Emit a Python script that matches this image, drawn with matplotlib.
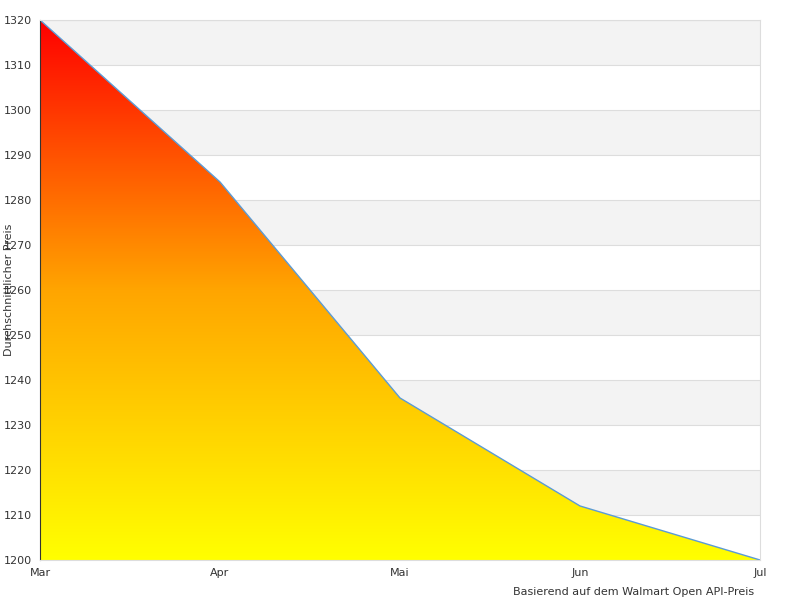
import matplotlib
matplotlib.use("Agg")
import matplotlib.pyplot as plt
import numpy as np
from matplotlib.colors import LinearSegmentedColormap
from matplotlib.patches import Polygon

months = ["Mar", "Apr", "Mai", "Jun", "Jul"]
prices = [1320, 1284, 1236, 1212, 1200]
yticks = list(range(1200, 1321, 10))

fig = plt.figure(figsize=(8, 6), dpi=100)
ax = fig.add_axes([0.05, 0.0667, 0.9, 0.9])
x = np.arange(len(months))
ymin, ymax = 1200, 1320
ax.set_xlim(0, len(months) - 1)
ax.set_ylim(ymin, ymax)

for lo in range(1200, 1320, 10):
    if ((lo - 1200) // 10) % 2 == 1:
        ax.axhspan(lo, lo + 10, color="#f3f3f3", zorder=0, lw=0)
for t in yticks:
    ax.axhline(t, color="#dddddd", lw=0.8, zorder=0.5)

cmap = LinearSegmentedColormap.from_list("ry", ["#ffff00", "#ffa500", "#ff0000"])
grad = np.linspace(0, 1, 256).reshape(-1, 1)
im = ax.imshow(grad, cmap=cmap, origin="lower", aspect="auto",
               extent=[0, len(months) - 1, ymin, ymax], zorder=1)
verts = list(zip(x, prices)) + [(x[-1], ymin), (x[0], ymin)]
poly = Polygon(verts, closed=True, transform=ax.transData, facecolor="none", edgecolor="none")
ax.add_patch(poly)
im.set_clip_path(poly)
ax.plot(x, prices, color="#5b9bd5", lw=1, zorder=2)

ax.set_xticks(x)
ax.set_xticklabels(months)
ax.set_yticks(yticks)
ax.tick_params(labelsize=8, colors="#333333", length=0, pad=6)
for s in ax.spines.values():
    s.set_color("#dddddd")
ax.spines["left"].set_color("#333333")
ax.set_ylabel("Durchschnittlicher Preis", fontsize=8, color="#333333")
ax.yaxis.set_label_coords(-0.036, 0.5)
fig.text(0.943, 0.005, "Basierend auf dem Walmart Open API-Preis", fontsize=8,
         color="#333333", ha="right", va="bottom")
fig.savefig("out.png", dpi=100)
